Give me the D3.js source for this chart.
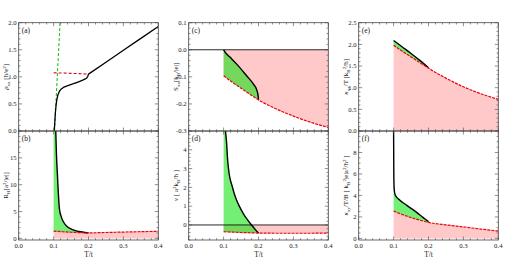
<!DOCTYPE html>
<html><head><meta charset="utf-8">
<script src="https://cdn.jsdelivr.net/npm/d3@7"></script>
<style>
body{margin:0;background:#fff}
svg{display:block}
text{font-family:"Liberation Serif","DejaVu Serif",serif;fill:#222}
</style>
</head><body><svg id="c" width="509" height="263"></svg>
<script>
// ---------------- DATA ----------------
const xTickVals = [0, 0.1, 0.2, 0.3, 0.4];

// (a) resistivity rho_xx
const aBlackT   = [0.102, 0.1035, 0.105, 0.107, 0.109, 0.112, 0.1164, 0.121, 0.128, 0.137, 0.147, 0.157, 0.166, 0.175, 0.185, 0.191, 0.195, 0.198, 0.2, 0.25, 0.3, 0.35, 0.4];
const aBlackV   = [0, 0.17, 0.33, 0.47, 0.57, 0.66, 0.73, 0.77, 0.805, 0.83, 0.852, 0.873, 0.895, 0.918, 0.944, 0.962, 0.98, 1.01, 1.05, 1.27, 1.49, 1.71, 1.93];
const aRedT     = [0.1, 0.15, 0.2];
const aRedV     = [1.075, 1.065, 1.05];
const aGreenT   = [0.1025, 0.1185];
const aGreenV   = [0, 2.0];
const aTicks    = [0, 0.5, 1, 1.5, 2];

// (b) Hall coefficient R_H
const bBlackT   = [0.1062, 0.108, 0.111, 0.1165, 0.122, 0.128, 0.137, 0.147, 0.16, 0.176, 0.19, 0.2];
const bBlackV   = [20, 16, 11.8, 5.6, 4.0, 3.1, 2.3, 1.86, 1.5, 1.23, 1.1, 1.04];
const bRedT     = [0.1, 0.125, 0.15, 0.175, 0.2, 0.25, 0.3, 0.35, 0.4];
const bRedV     = [1.35, 1.24, 1.14, 1.07, 1.03, 1.1, 1.18, 1.25, 1.32];
const bTicks    = [0, 5, 10, 15];

// (c) Seebeck S_xx
const cBlackT   = [0.1, 0.105, 0.118, 0.137, 0.166, 0.185, 0.195, 0.199, 0.2];
const cBlackV   = [0, -0.01, -0.027, -0.052, -0.096, -0.126, -0.148, -0.17, -0.185];
const cRedT     = [0.1, 0.125, 0.15, 0.175, 0.2, 0.25, 0.3, 0.35, 0.4];
const cRedV     = [-0.096, -0.12, -0.142, -0.164, -0.185, -0.218, -0.245, -0.268, -0.287];
const cTicks    = [-0.3, -0.2, -0.1, 0, 0.1];

// (d) Nernst nu
const dBlackT   = [0.1055, 0.107, 0.109, 0.111, 0.114, 0.118, 0.124, 0.13, 0.137, 0.145, 0.156, 0.165, 0.176, 0.188, 0.2];
const dBlackV   = [5, 4.7, 4.27, 3.6, 3.0, 2.5, 2.1, 1.7, 1.33, 1.0, 0.62, 0.36, 0.09, -0.18, -0.44];
const dRedT     = [0.1, 0.15, 0.2, 0.25, 0.3, 0.35, 0.4];
const dRedV     = [-0.36, -0.40, -0.43, -0.44, -0.44, -0.44, -0.43];
const dTicks    = [0, 1, 2, 3, 4];

// (e) thermal conductivity kappa_xx/T
const eBlackT   = [0.1, 0.125, 0.15, 0.175, 0.2];
const eBlackV   = [2.09, 1.94, 1.79, 1.63, 1.46];
const eRedT     = [0.1, 0.125, 0.15, 0.175, 0.2, 0.25, 0.3, 0.35, 0.4];
const eRedV     = [1.98, 1.84, 1.71, 1.58, 1.45, 1.22, 1.02, 0.86, 0.73];
const eTicks    = [0, 0.5, 1, 1.5, 2, 2.5];

// (f) thermal Hall kappa_xy/T/B
const fBlackT   = [0.1, 0.1005, 0.101, 0.102, 0.104, 0.108, 0.118, 0.128, 0.137, 0.15, 0.166, 0.18, 0.19, 0.2];
const fBlackV   = [10, 6.5, 5.2, 4.5, 4.1, 3.87, 3.56, 3.3, 3.1, 2.8, 2.42, 2.06, 1.8, 1.55];
const fRedT     = [0.1, 0.125, 0.15, 0.175, 0.2, 0.25, 0.3, 0.35, 0.4];
const fRedV     = [2.54, 2.22, 1.94, 1.70, 1.49, 1.26, 1.07, 0.87, 0.68];
const fTicks    = [0, 2, 4, 6, 8];

// ---------------- LAYOUT ----------------
const svg = d3.select("#c");
const colOff = [0, 170, 340];
const plotL = 18.7, plotW = 139.6;
const rowY = [[22.7, 131], [131, 240]];
const pink = "#ffc9c9";
const green = "rgb(0,228,0)";

function interp(xs, ys, x) {
  if (x <= xs[0]) return ys[0];
  for (let i = 1; i < xs.length; i++) {
    if (x <= xs[i]) { const t = (x - xs[i-1])/(xs[i]-xs[i-1]); return ys[i-1] + t*(ys[i]-ys[i-1]); }
  }
  return ys[ys.length-1];
}

const panels = [
  {id:"a", col:0, row:0, dom:[0,2], ticks:aTicks, minor:0.1, fmt:d3.format(".1f"),
   bT:aBlackT, bV:aBlackV, rT:aRedT, rV:aRedV, fills:false, zero:false,
   label:[["ρ",{it:1}],["xx",{sub:1}],[" [ħ/e"],["2",{sup:1}],["]"]]},
  {id:"b", col:0, row:1, dom:[-0.3,20], ticks:bTicks, minor:1, fmt:d3.format("d"),
   bT:bBlackT, bV:bBlackV, rT:bRedT, rV:bRedV, fills:true, zero:false, topFill:true,
   label:[["R"],["H",{sub:1}],["[a"],["2",{sup:1}],["/|e|]"]]},
  {id:"c", col:1, row:0, dom:[-0.3,0.1], ticks:cTicks, minor:0.02, fmt:d3.format(".1f"),
   bT:cBlackT, bV:cBlackV, rT:cRedT, rV:cRedV, fills:true, zero:true,
   label:[["S"],["xx",{sub:1}],["[k"],["B",{sub:1}],["/|e|]"]]},
  {id:"d", col:1, row:1, dom:[-0.8,5], ticks:dTicks, minor:0.2, fmt:d3.format("d"),
   bT:dBlackT, bV:dBlackV, rT:dRedT, rV:dRedV, fills:true, zero:true, topFill:true,
   label:[["ν",{it:1}],[" [ a"],["2",{sup:1}],["k"],["B",{sub:1}],["/ħ ]"]]},
  {id:"e", col:2, row:0, dom:[0,2.5], ticks:eTicks, minor:0.1, fmt:d3.format(".1f"),
   bT:eBlackT, bV:eBlackV, rT:eRedT, rV:eRedV, fills:true, zero:false,
   label:[["κ",{it:1}],["xx",{sub:1}],["/T [k"],["B",{sub:1}],["2",{sup:1}],["/ħ]"]]},
  {id:"f", col:2, row:1, dom:[-0.15,10], ticks:fTicks, minor:0.5, fmt:d3.format("d"),
   bT:fBlackT, bV:fBlackV, rT:fRedT, rV:fRedV, fills:true, zero:false,
   label:[["κ",{it:1}],["xy",{sub:1}],["/T/B [ k"],["B",{sub:1}],["2",{sup:1}],["|e|a"],["2",{sup:1}],["/ħ"],["2",{sup:1}],[" ]"]]}
];

const defs = svg.append("defs");

panels.forEach(p => {
  const x0 = colOff[p.col] + plotL, x1 = x0 + plotW;
  const [yT, yB] = rowY[p.row];
  const x = d3.scaleLinear().domain([0, 0.4]).range([x0, x1]);
  const y = d3.scaleLinear().domain(p.dom).range([yB, yT]);
  const cid = "clip-" + p.id;
  defs.append("clipPath").attr("id", cid).append("rect")
    .attr("x", x0).attr("y", yT).attr("width", plotW).attr("height", yB - yT);
  const g = svg.append("g").attr("clip-path", `url(#${cid})`);

  const red = p.rT.map((t, i) => ({t, v: p.rV[i]}));
  const blk = p.bT.map((t, i) => ({t, v: p.bV[i]}));

  if (p.fills) {
    g.append("path").datum(red)
      .attr("d", d3.area().x(d => x(d.t)).y0(y(0)).y1(d => y(d.v)).curve(d3.curveMonotoneX))
      .attr("fill", pink);
    let gd = blk.map(d => ({t: d.t, hi: d.v, lo: interp(p.rT, p.rV, d.t)}));
    if (p.topFill) gd = [{t: p.rT[0], hi: p.dom[1], lo: p.rV[0]}].concat(gd);
    g.append("path").datum(gd)
      .attr("d", d3.area().x(d => x(d.t)).y0(d => y(d.lo)).y1(d => y(d.hi)).curve(d3.curveMonotoneX))
      .attr("fill", green).attr("fill-opacity", 0.55);
  }
  if (p.zero) {
    g.append("line").attr("x1", x0).attr("x2", x1).attr("y1", y(0)).attr("y2", y(0))
      .attr("stroke", "#111").attr("stroke-width", 0.9);
  }
  const line = d3.line().x(d => x(d.t)).y(d => y(d.v)).curve(d3.curveMonotoneX);
  if (p.id === "a") {
    const gr = aGreenT.map((t, i) => ({t, v: aGreenV[i]}));
    g.append("path").datum(gr).attr("d", d3.line().x(d => x(d.t)).y(d => y(d.v)))
      .attr("fill", "none").attr("stroke", "#13b613").attr("stroke-width", 1).attr("stroke-dasharray", "3,2");
    g.append("path").datum(red).attr("d", line).attr("fill", "none")
      .attr("stroke", "#e8000b").attr("stroke-width", 1.1).attr("stroke-dasharray", "3,2");
    g.append("path").datum(blk).attr("d", d3.line().x(d => x(d.t)).y(d => y(d.v))).attr("fill", "none")
      .attr("stroke", "#000").attr("stroke-width", 1.3).attr("stroke-linejoin", "round");
  } else {
    g.append("path").datum(blk).attr("d", line).attr("fill", "none")
      .attr("stroke", "#000").attr("stroke-width", 1.4);
    g.append("path").datum(red).attr("d", line).attr("fill", "none")
      .attr("stroke", "#e8000b").attr("stroke-width", 1.2).attr("stroke-dasharray", "3,1");
  }

  // frame
  const fr = svg.append("g");
  fr.append("rect").attr("x", x0).attr("y", yT).attr("width", plotW).attr("height", yB - yT)
    .attr("fill", "none").attr("stroke", "#444").attr("stroke-width", 0.8);
  const tk = (x1_, y1_, x2_, y2_) => fr.append("line").attr("x1", x1_).attr("y1", y1_)
    .attr("x2", x2_).attr("y2", y2_).attr("stroke", "#444").attr("stroke-width", 0.6);
  const xMinor = d3.range(0, 0.4001, 0.02);
  xMinor.forEach(v => {
    const major = xTickVals.some(m => Math.abs(m - v) < 1e-6);
    const L = major ? 3.5 : 1.8;
    tk(x(v), yB, x(v), yB - L); tk(x(v), yT, x(v), yT + L);
  });
  const yMinor = d3.range(Math.ceil(p.dom[0]/p.minor - 1e-6)*p.minor, p.dom[1] + 1e-9, p.minor);
  yMinor.forEach(v => {
    const major = p.ticks.some(m => Math.abs(m - v) < 1e-6);
    const L = major ? 3.5 : 1.8;
    tk(x0, y(v), x0 + L, y(v)); tk(x1, y(v), x1 - L, y(v));
  });
  p.ticks.forEach(v => {
    fr.append("text").attr("x", x0 - 2).attr("y", y(v) + 2.3).attr("text-anchor", "end")
      .attr("font-size", 6.7).text(p.fmt(v).replace("−", "-"));
  });
  if (p.row === 1) {
    xTickVals.forEach(v => {
      fr.append("text").attr("x", x(v)).attr("y", yB + 7.5).attr("text-anchor", "middle")
        .attr("font-size", 6.7).text(d3.format(".1f")(v));
    });
    fr.append("text").attr("x", (x0 + x1)/2).attr("y", 257).attr("text-anchor", "middle")
      .attr("font-size", 7.5).text("T/t");
  }
  fr.append("text").attr("x", x0 + 3).attr("y", yT + 10).attr("font-size", 7.5).text(`(${p.id})`);
  const lt = fr.append("text").attr("transform", `translate(${x0 - 10.3},${(yT + yB)/2}) rotate(-90)`)
    .attr("text-anchor", "middle").attr("font-size", 7);
  let shift = 0;
  p.label.forEach(([s, o]) => {
    o = o || {};
    let target = o.sub ? 1.6 : o.sup ? -2.5 : 0;
    const ts = lt.append("tspan").text(s).attr("dy", target - shift);
    if (o.sub || o.sup) ts.attr("font-size", 5);
    if (o.it) ts.attr("font-style", "italic");
    shift = target;
  });
});
</script>
</body></html>
